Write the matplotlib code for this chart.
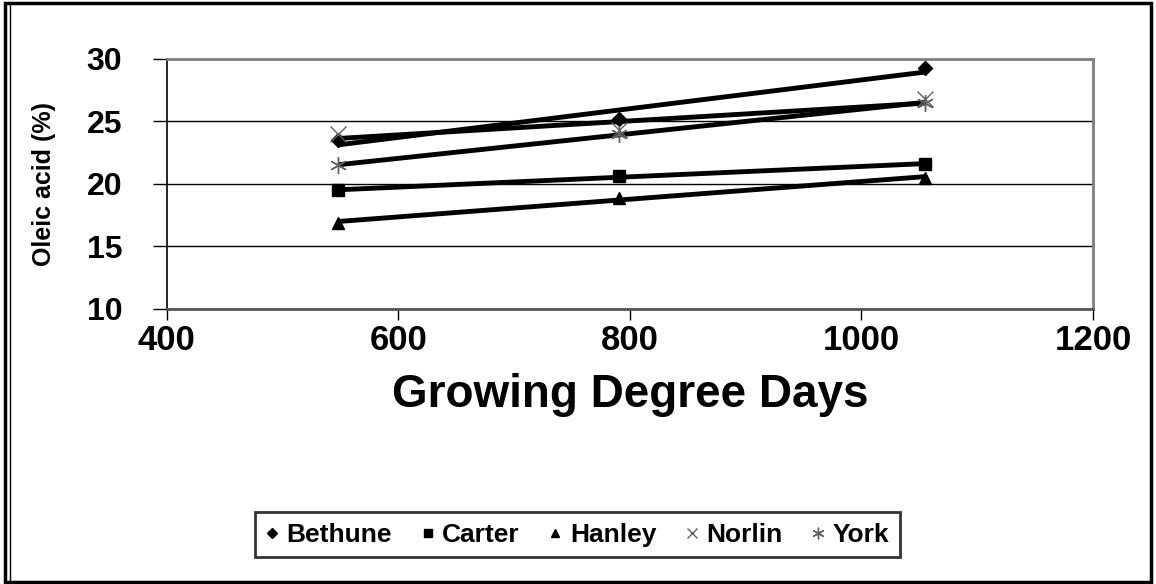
import numpy as np
import matplotlib.pyplot as plt
from matplotlib.patches import Rectangle
from matplotlib.lines import Line2D

plt.rcParams['font.family'] = ['Liberation Sans', 'DejaVu Sans']
plt.rcParams['font.weight'] = 'bold'

# growing degree days of the three sampling dates
gdd = [548, 791, 1055]

bethune = [23.5, 25.2, 29.3]
carter = [19.5, 20.6, 21.6]
hanley = [16.9, 18.9, 20.5]
norlin = [24.0, 24.3, 26.8]
york = [21.5, 24.0, 26.5]

names = ['Bethune', 'Carter', 'Hanley', 'Norlin', 'York']
series = [bethune, carter, hanley, norlin, york]
markers = ['D', 's', '^', 'x', (6, 2, 0)]
msizes = [7, 9, 9, 11, 12]
mcolors = ['black', 'black', 'black', '#606060', '#606060']

fig = plt.figure(figsize=(11.56, 5.84), dpi=100)
ax = fig.add_axes([0.1442, 0.471, 0.8013, 0.428])

x = np.array(gdd)
for name, y, m, ms, mc in zip(names, series, markers, msizes, mcolors):
    # linear trendline like in excel
    k, b = np.polyfit(x, y, 1)
    ax.plot(x[[0, -1]], k * x[[0, -1]] + b, color='black', lw=3.5,
            solid_capstyle='butt', zorder=3)
    ax.plot(x, y, linestyle='none', marker=m, ms=ms, color=mc,
            markeredgecolor=mc, markeredgewidth=1.0, label=name, zorder=4)

ax.set_xlim(400, 1200)
ax.set_ylim(10, 30)
ax.set_xticks([400, 600, 800, 1000, 1200])
ax.set_yticks([10, 15, 20, 25, 30])
ax.yaxis.grid(True, color='black', lw=1.0)
ax.set_axisbelow(True)

for s in ['top', 'right']:
    ax.spines[s].set_color('#808080')
    ax.spines[s].set_linewidth(2)
ax.spines['left'].set_color('black')
ax.spines['bottom'].set_color('#555555')
ax.spines['left'].set_linewidth(1.2)
ax.spines['bottom'].set_linewidth(2)

ax.tick_params(axis='x', direction='out', length=8, width=1, pad=3,
               labelsize=25)
ax.tick_params(axis='y', direction='out', length=10, width=1, pad=22,
               labelsize=23)
for t in ax.get_xticklabels() + ax.get_yticklabels():
    t.set_fontweight('bold')

ax.set_xlabel('Growing Degree Days', fontsize=33, fontweight='bold')
ax.xaxis.set_label_coords(0.5, -0.344)
ax.xaxis.label.set_va('center')
ax.set_ylabel('Oleic acid (%)', fontsize=18, fontweight='bold')
ax.yaxis.set_label_coords(-0.132, 0.5)
ax.yaxis.label.set_va('center')

leg = fig.legend(loc='center', bbox_to_anchor=(0.4995, 0.084), ncol=5,
                 frameon=True, fancybox=False, fontsize=19,
                 handlelength=0.5, handletextpad=0.3, columnspacing=1.1,
                 borderpad=0.4, markerscale=0.7)
leg.get_frame().set_edgecolor('black')
leg.get_frame().set_linewidth(2)
for t in leg.get_texts():
    t.set_fontweight('bold')

# outer border of the chart, double line on the left
fig.patches.append(Rectangle((0.004, 0.004), 0.992, 0.991, transform=fig.transFigure,
                             fill=False, edgecolor='black', lw=2.5))
fig.lines.append(Line2D([0.0085, 0.0085], [0.004, 0.995], transform=fig.transFigure,
                        color='black', lw=1))

fig.savefig('out.png', dpi=100)
